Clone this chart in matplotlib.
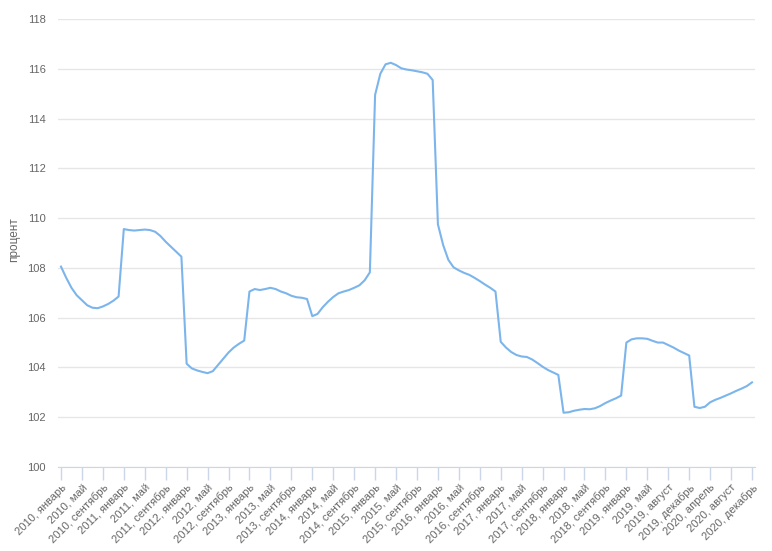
import matplotlib.pyplot as plt
import numpy as np

# monthly index values, 2010 January .. 2020 December (source has one extra point in 2019)
values = [
    108.05, 107.6, 107.2, 106.9, 106.7, 106.5, 106.4, 106.38, 106.45, 106.55, 106.68, 106.85,
    109.56, 109.52, 109.5, 109.52, 109.54, 109.52, 109.45, 109.28, 109.05, 108.85, 108.65, 108.45,
    104.15, 103.96, 103.88, 103.82, 103.77, 103.85, 104.1, 104.35, 104.6, 104.8, 104.95, 105.08,
    107.05, 107.15, 107.11, 107.15, 107.2, 107.15, 107.05, 106.98, 106.88, 106.82, 106.8, 106.75,
    106.06, 106.15, 106.42, 106.64, 106.83, 106.98, 107.05, 107.11, 107.2, 107.3, 107.5, 107.82,
    114.95, 115.8, 116.18, 116.24, 116.15, 116.02, 115.97, 115.94, 115.9, 115.86, 115.8, 115.55,
    109.75, 108.92, 108.32, 108.02, 107.9, 107.8, 107.72, 107.6, 107.47, 107.33, 107.2, 107.05,
    105.03, 104.8, 104.62, 104.5, 104.44, 104.42, 104.32, 104.18, 104.03, 103.9, 103.8, 103.7,
    102.18, 102.2, 102.26, 102.3, 102.33, 102.32, 102.36, 102.45, 102.57, 102.67, 102.76, 102.87,
    105.0, 105.13, 105.17, 105.17, 105.15, 105.07, 105.0, 105.0, 104.9, 104.8, 104.68, 104.58, 104.48,
    102.42, 102.37, 102.42, 102.6, 102.7, 102.78, 102.87, 102.96, 103.06, 103.15, 103.25, 103.4,
]

tick_labels = [
    "2010, январь", "2010, май", "2010, сентябрь",
    "2011, январь", "2011, май", "2011, сентябрь",
    "2012, январь", "2012, май", "2012, сентябрь",
    "2013, январь", "2013, май", "2013, сентябрь",
    "2014, январь", "2014, май", "2014, сентябрь",
    "2015, январь", "2015, май", "2015, сентябрь",
    "2016, январь", "2016, май", "2016, сентябрь",
    "2017, январь", "2017, май", "2017, сентябрь",
    "2018, январь", "2018, май", "2018, сентябрь",
    "2019, январь", "2019, май", "2019, август", "2019, декабрь",
    "2020, апрель", "2020, август", "2020, декабрь",
]
tick_step = 4

y_ticks = [100, 102, 104, 106, 108, 110, 112, 114, 116, 118]

plt.rcParams['font.family'] = ['Liberation Sans', 'DejaVu Sans']

fig = plt.figure(figsize=(7.72, 5.51), dpi=100)
W, H = 772, 551
left, right, top, bottom = 58, 755, 19, 467
ax = fig.add_axes([left / W, 1 - bottom / H, (right - left) / W, (bottom - top) / H])

x = np.arange(len(values))
ax.plot(x, values, color='#7cb5ec', linewidth=1.5, solid_joinstyle='round')

n = len(values) - 1
pad = 3 / ((right - left - 6) / n)
ax.set_xlim(-pad, n + pad)
ax.set_ylim(100, 118)

ax.set_yticks(y_ticks)
ax.set_yticklabels([str(v) for v in y_ticks], color='#666666', fontsize=8)
ax.yaxis.grid(True, color='#e6e6e6', linewidth=1)
ax.tick_params(axis='y', length=0, pad=9)

ax.set_xticks(np.arange(0, len(values), tick_step))
ax.set_xticklabels(tick_labels, rotation=45, ha='right', rotation_mode='anchor',
                   color='#666666', fontsize=8)
ax.tick_params(axis='x', length=9, color='#ccd6eb', width=1, pad=2)

for s in ['top', 'right', 'left']:
    ax.spines[s].set_visible(False)
ax.spines['bottom'].set_color('#ccd6eb')
ax.set_axisbelow(True)

ax.set_ylabel('процент', color='#666666', fontsize=8.5)
ax.yaxis.set_label_coords(-38 / (right - left), (467 - 240) / (bottom - top))

fig.savefig('out.png', dpi=100, facecolor='white')
